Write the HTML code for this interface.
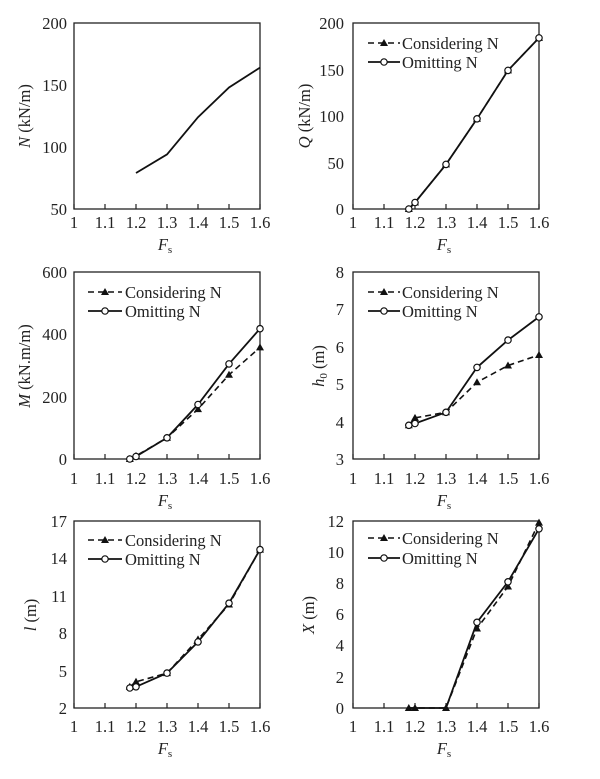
<!DOCTYPE html>
<html><head><meta charset="utf-8"><style>
body{margin:0;background:#fff}
svg{display:block;font-family:"Liberation Serif",serif;font-size:16.5px;fill:#222}
.ax{fill:none;stroke:#222;stroke-width:1.3}
.s{fill:none;stroke:#111;stroke-width:1.8}
.d{fill:none;stroke:#111;stroke-width:1.6;stroke-dasharray:6 4}
.yt{text-anchor:end}
.xt{text-anchor:middle}
</style></head><body>
<svg width="600" height="779" viewBox="0 0 600 779">
<defs>
<path id="tk" d="M0 0v-5M31 0v-5M62 0v-5M93 0v-5M124 0v-5M155 0v-5M186 0v-5" stroke="#222" stroke-width="1.2"/>
<path id="tri" d="M0 -4L4 3L-4 3Z" fill="#111"/>
<circle id="cir" r="3.2" fill="#fff" stroke="#111" stroke-width="1.2"/>
<g id="xl"><text class="xt" x="0" y="0">1</text><text class="xt" x="31" y="0">1.1</text><text class="xt" x="62" y="0">1.2</text><text class="xt" x="93" y="0">1.3</text><text class="xt" x="124" y="0">1.4</text><text class="xt" x="155" y="0">1.5</text><text class="xt" x="186" y="0">1.6</text></g>
</defs>

<!-- Panel 1 -->
<rect class="ax" x="74" y="23" width="186" height="186"/>
<use href="#tk" x="74" y="209"/>
<text class="yt" x="67" y="29">200</text><text class="yt" x="67" y="91">150</text><text class="yt" x="67" y="153">100</text><text class="yt" x="67" y="215">50</text>
<use href="#xl" x="74" y="228"/>
<text class="xt" x="165" y="250"><tspan font-style="italic">F</tspan><tspan font-size="11" dy="3">s</tspan></text>
<text transform="translate(30,116) rotate(-90)" text-anchor="middle"><tspan font-style="italic">N</tspan> (kN/m)</text>
<polyline class="s" points="136,173 167,154.4 198,117.2 229,87.5 260,67.6"/>

<!-- Panel 2 -->
<rect class="ax" x="353" y="23" width="186" height="186"/>
<use href="#tk" x="353" y="209"/>
<text class="yt" x="344" y="29">200</text><text class="yt" x="344" y="76">150</text><text class="yt" x="344" y="122">100</text><text class="yt" x="344" y="169">50</text><text class="yt" x="344" y="215">0</text>
<use href="#xl" x="353" y="228"/>
<text class="xt" x="444" y="250"><tspan font-style="italic">F</tspan><tspan font-size="11" dy="3">s</tspan></text>
<text transform="translate(310,116) rotate(-90)" text-anchor="middle"><tspan font-style="italic">Q</tspan> (kN/m)</text>
<polyline class="d" points="408.8,209 415,202.5 446,164.4 477,118.8 508,70.4 539,37.9"/>
<polyline class="s" points="408.8,209 415,202.5 446,164.4 477,118.8 508,70.4 539,37.9"/>
<g><use href="#tri" x="408.8" y="209"/><use href="#tri" x="415" y="202.5"/><use href="#tri" x="446" y="164.4"/><use href="#tri" x="477" y="118.8"/><use href="#tri" x="508" y="70.4"/><use href="#tri" x="539" y="37.9"/></g>
<g><use href="#cir" x="408.8" y="209"/><use href="#cir" x="415" y="202.5"/><use href="#cir" x="446" y="164.4"/><use href="#cir" x="477" y="118.8"/><use href="#cir" x="508" y="70.4"/><use href="#cir" x="539" y="37.9"/></g>
<line class="d" x1="368" y1="43" x2="400" y2="43"/><use href="#tri" x="384" y="43"/><text x="402" y="49">Considering N</text>
<line class="s" x1="368" y1="62" x2="400" y2="62"/><use href="#cir" x="384" y="62"/><text x="402" y="68">Omitting N</text>

<!-- Panel 3 -->
<rect class="ax" x="74" y="272" width="186" height="187"/>
<use href="#tk" x="74" y="459"/>
<text class="yt" x="67" y="278">600</text><text class="yt" x="67" y="340">400</text><text class="yt" x="67" y="403">200</text><text class="yt" x="67" y="465">0</text>
<use href="#xl" x="74" y="484"/>
<text class="xt" x="165" y="506"><tspan font-style="italic">F</tspan><tspan font-size="11" dy="3">s</tspan></text>
<text transform="translate(30,366) rotate(-90)" text-anchor="middle"><tspan font-style="italic">M</tspan> (kN.m/m)</text>
<polyline class="d" points="129.8,459 136,455.9 167,437.8 198,409.1 229,374.8 260,347.4"/>
<polyline class="s" points="129.8,459 136,456.5 167,437.8 198,404.5 229,363.9 260,328.7"/>
<g><use href="#tri" x="129.8" y="459"/><use href="#tri" x="136" y="455.9"/><use href="#tri" x="167" y="437.8"/><use href="#tri" x="198" y="409.1"/><use href="#tri" x="229" y="374.8"/><use href="#tri" x="260" y="347.4"/></g>
<g><use href="#cir" x="129.8" y="459"/><use href="#cir" x="136" y="456.5"/><use href="#cir" x="167" y="437.8"/><use href="#cir" x="198" y="404.5"/><use href="#cir" x="229" y="363.9"/><use href="#cir" x="260" y="328.7"/></g>
<line class="d" x1="88" y1="292" x2="122" y2="292"/><use href="#tri" x="105" y="292"/><text x="125" y="298">Considering N</text>
<line class="s" x1="88" y1="311" x2="122" y2="311"/><use href="#cir" x="105" y="311"/><text x="125" y="317">Omitting N</text>

<!-- Panel 4 -->
<rect class="ax" x="353" y="272" width="186" height="187"/>
<use href="#tk" x="353" y="459"/>
<text class="yt" x="344" y="278">8</text><text class="yt" x="344" y="315">7</text><text class="yt" x="344" y="353">6</text><text class="yt" x="344" y="390">5</text><text class="yt" x="344" y="428">4</text><text class="yt" x="344" y="465">3</text>
<use href="#xl" x="353" y="484"/>
<text class="xt" x="444" y="506"><tspan font-style="italic">F</tspan><tspan font-size="11" dy="3">s</tspan></text>
<text transform="translate(324,366) rotate(-90)" text-anchor="middle"><tspan font-style="italic">h</tspan><tspan font-size="11" dy="3">0</tspan><tspan dy="-3"> (m)</tspan></text>
<polyline class="d" points="408.8,425.3 415,417.9 446,412.3 477,382.3 508,365.5 539,355"/>
<polyline class="s" points="408.8,425.3 415,423.5 446,412.3 477,367.4 508,340.1 539,316.9"/>
<g><use href="#tri" x="408.8" y="425.3"/><use href="#tri" x="415" y="417.9"/><use href="#tri" x="446" y="412.3"/><use href="#tri" x="477" y="382.3"/><use href="#tri" x="508" y="365.5"/><use href="#tri" x="539" y="355"/></g>
<g><use href="#cir" x="408.8" y="425.3"/><use href="#cir" x="415" y="423.5"/><use href="#cir" x="446" y="412.3"/><use href="#cir" x="477" y="367.4"/><use href="#cir" x="508" y="340.1"/><use href="#cir" x="539" y="316.9"/></g>
<line class="d" x1="368" y1="292" x2="400" y2="292"/><use href="#tri" x="384" y="292"/><text x="402" y="298">Considering N</text>
<line class="s" x1="368" y1="311" x2="400" y2="311"/><use href="#cir" x="384" y="311"/><text x="402" y="317">Omitting N</text>

<!-- Panel 5 -->
<rect class="ax" x="74" y="521" width="186" height="187"/>
<use href="#tk" x="74" y="708"/>
<text class="yt" x="67" y="527">17</text><text class="yt" x="67" y="564">14</text><text class="yt" x="67" y="602">11</text><text class="yt" x="67" y="639">8</text><text class="yt" x="67" y="677">5</text><text class="yt" x="67" y="714">2</text>
<use href="#xl" x="74" y="732"/>
<text class="xt" x="165" y="754"><tspan font-style="italic">F</tspan><tspan font-size="11" dy="3">s</tspan></text>
<text transform="translate(36,615) rotate(-90)" text-anchor="middle"><tspan font-style="italic">l</tspan> (m)</text>
<polyline class="d" points="129.8,686.8 136,681.8 167,673.1 198,639.4 229,604.5 260,549.6"/>
<polyline class="s" points="129.8,688 136,686.8 167,673.1 198,641.9 229,603.2 260,549.6"/>
<g><use href="#tri" x="129.8" y="686.8"/><use href="#tri" x="136" y="681.8"/><use href="#tri" x="167" y="673.1"/><use href="#tri" x="198" y="639.4"/><use href="#tri" x="229" y="604.5"/><use href="#tri" x="260" y="549.6"/></g>
<g><use href="#cir" x="129.8" y="688"/><use href="#cir" x="136" y="686.8"/><use href="#cir" x="167" y="673.1"/><use href="#cir" x="198" y="641.9"/><use href="#cir" x="229" y="603.2"/><use href="#cir" x="260" y="549.6"/></g>
<line class="d" x1="88" y1="540" x2="122" y2="540"/><use href="#tri" x="105" y="540"/><text x="125" y="546">Considering N</text>
<line class="s" x1="88" y1="559" x2="122" y2="559"/><use href="#cir" x="105" y="559"/><text x="125" y="565">Omitting N</text>

<!-- Panel 6 -->
<rect class="ax" x="353" y="521" width="186" height="187"/>
<use href="#tk" x="353" y="708"/>
<text class="yt" x="344" y="527">12</text><text class="yt" x="344" y="558">10</text><text class="yt" x="344" y="589">8</text><text class="yt" x="344" y="620">6</text><text class="yt" x="344" y="651">4</text><text class="yt" x="344" y="683">2</text><text class="yt" x="344" y="714">0</text>
<use href="#xl" x="353" y="732"/>
<text class="xt" x="444" y="754"><tspan font-style="italic">F</tspan><tspan font-size="11" dy="3">s</tspan></text>
<text transform="translate(314,615) rotate(-90)" text-anchor="middle"><tspan font-style="italic">X</tspan> (m)</text>
<polyline class="d" points="408.8,708 415,708 446,708 477,628.5 508,586.5 539,522.6"/>
<polyline class="s" points="408.8,708 415,708 446,708 477,622.3 508,581.8 539,528.8"/>
<g><use href="#tri" x="408.8" y="708"/><use href="#tri" x="415" y="708"/><use href="#tri" x="446" y="708"/><use href="#tri" x="477" y="628.5"/><use href="#tri" x="508" y="586.5"/><use href="#tri" x="539" y="522.6"/></g>
<g><use href="#cir" x="477" y="622.3"/><use href="#cir" x="508" y="581.8"/><use href="#cir" x="539" y="528.8"/></g>
<line class="d" x1="368" y1="538" x2="400" y2="538"/><use href="#tri" x="384" y="538"/><text x="402" y="544">Considering N</text>
<line class="s" x1="368" y1="558" x2="400" y2="558"/><use href="#cir" x="384" y="558"/><text x="402" y="564">Omitting N</text>
</svg>
</body></html>
